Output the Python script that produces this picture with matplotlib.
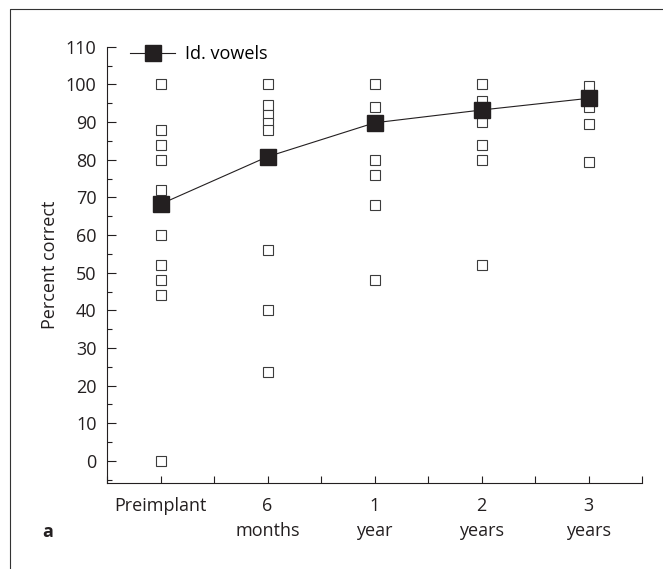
import numpy as np
import matplotlib.pyplot as plt
from matplotlib.lines import Line2D
from matplotlib.ticker import MultipleLocator

plt.rcParams['font.family'] = ['Open Sans', 'DejaVu Sans']
plt.rcParams['font.size'] = 13

# categories and data
categories = ['Preimplant', '6\nmonths', '1\nyear', '2\nyears', '3\nyears']
mean_vowels = [68.2, 80.8, 89.8, 93.2, 96.3]

individual = [
    [100, 88, 84, 80, 72, 60, 52, 48, 44, 0],
    [100, 94.5, 92, 89.8, 88, 56, 40, 23.5],
    [100, 94, 80, 76, 68, 48],
    [100, 95.6, 90, 84, 80, 52],
    [99.6, 94, 89.4, 79.5],
]

dark = '#231f20'

fig = plt.figure(figsize=(6.63, 5.69), dpi=100)
ax = fig.add_axes([0.1614, 0.1517, 0.8074, 0.7662])

# individual subjects (open squares)
for i, vals in enumerate(individual):
    ax.plot([i] * len(vals), vals, linestyle='none', marker='s', markersize=7.4,
            markerfacecolor='white', markeredgecolor='#3c3c3c', markeredgewidth=0.8,
            zorder=2)

# group mean
ax.plot(range(len(categories)), mean_vowels, color=dark, linewidth=0.8,
        marker='s', markersize=11, markerfacecolor=dark, markeredgecolor=dark,
        label='Id. vowels', zorder=3)

ax.set_xticks(range(len(categories)))
ax.set_xticklabels(categories, linespacing=1.5)
ax.xaxis.set_minor_locator(MultipleLocator(1, offset=0.5))
ax.yaxis.set_major_locator(MultipleLocator(10))
ax.yaxis.set_minor_locator(MultipleLocator(10, offset=5))
ax.set_xlim(-0.5, 4.5)
ax.set_ylim(-5.76, 110)

for s in ['top', 'right']:
    ax.spines[s].set_visible(False)
for s in ['left', 'bottom']:
    ax.spines[s].set_linewidth(0.8)
    ax.spines[s].set_color(dark)

ax.tick_params(axis='y', which='major', direction='in', length=6.5, width=0.8,
               pad=7.5, colors=dark, labelcolor=dark)
ax.tick_params(axis='y', which='minor', direction='in', length=3.6, width=0.8,
               colors=dark)
ax.tick_params(axis='x', which='both', direction='in', length=5, width=0.8,
               pad=10, colors=dark, labelcolor=dark)

ax.set_ylabel('Percent correct', color=dark)
ax.yaxis.set_label_coords(-0.09, 0.5)

ax.legend(loc='center left', bbox_to_anchor=(0.043, 0.983), frameon=False,
          borderpad=0, borderaxespad=0, handlelength=2.5, handletextpad=0.55)

fig.text(42 / 663, 1 - 537 / 569, 'a', fontweight='bold', fontsize=13,
         color=dark, va='baseline')

# panel frame (left and top edges)
fig.add_artist(Line2D([10 / 663, 10 / 663, 1], [0, 1 - 9 / 569, 1 - 9 / 569],
                      transform=fig.transFigure, color='#333333', linewidth=0.8))

fig.savefig('out.png', dpi=100)
